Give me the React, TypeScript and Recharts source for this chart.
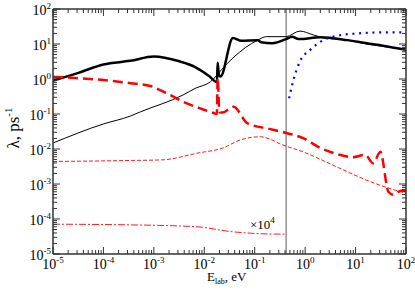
import React, { type ReactElement } from "react";
import { Line, LineChart, ReferenceLine, XAxis, YAxis } from "recharts";

// decade ticks for both log axes
const decades = [1e-5, 1e-4, 1e-3, 1e-2, 1e-1, 1e0, 1e1, 1e2];
const decadeExps = ["-5", "-4", "-3", "-2", "-1", "0", "1", "2"];
const minorSteps = [2, 3, 4, 5, 6, 7, 8, 9];

// thick solid black
const totalE = [1e-5, 3.2e-5, 1e-4, 3.4e-4, 1e-3, 3.2e-3, 6.6e-3, 0.0126, 0.0178, 0.0184, 0.0195, 0.0209, 0.037, 0.054, 0.115, 0.135, 0.224, 0.417, 0.55, 0.74, 2.0, 6.8, 16.6, 35, 100];
const totalRate = [0.9, 1.5, 2.6, 3.3, 4.4, 3.2, 2.2, 1.2, 0.81, 2.9, 1.3, 1.17, 14.8, 12.3, 12.9, 11.2, 10.5, 13.8, 16.2, 13.8, 15.5, 12.9, 10.5, 8.9, 6.8];

// thin solid black
const thinE = [1e-5, 1e-4, 3.4e-4, 5.4e-4, 3.8e-3, 6.6e-3, 0.0132, 0.0224, 0.037, 0.115, 0.17, 0.417, 0.79, 1.45, 2.3, 6.8, 16.6, 35, 100];
const thinRate = [0.0148, 0.052, 0.087, 0.115, 0.35, 0.54, 0.83, 1.9, 4.0, 12.9, 16.2, 16.2, 23.4, 18.2, 15.1, 12.9, 10.0, 8.5, 7.1];

// thick dashed red
const dashE = [1e-5, 1e-4, 3.4e-4, 8.5e-4, 1.8e-3, 3.8e-3, 8.3e-3, 0.0158, 0.0178, 0.0184, 0.02, 0.0229, 0.038, 0.071, 0.204, 0.316, 0.91, 2.0, 4.4, 8.9, 15.5, 22.4, 31, 44.7, 56, 71, 85, 100];
const dashRate = [1.15, 0.93, 0.76, 0.63, 0.39, 0.224, 0.145, 0.105, 0.1, 1.07, 0.112, 0.11, 0.162, 0.055, 0.037, 0.0316, 0.0204, 0.0107, 0.0071, 0.0058, 0.0068, 0.0039, 0.0083, 6.0e-4, 4.9e-4, 6.0e-4, 6.5e-4, 6.3e-4];

// thin short-dashed red
const shortE = [1e-5, 3.4e-4, 1.5e-3, 7.2e-3, 0.0234, 0.051, 0.129, 0.204, 0.316, 0.91, 4.9, 19.5, 100];
const shortRate = [0.0044, 0.0047, 0.0049, 0.0076, 0.0107, 0.018, 0.0224, 0.019, 0.0141, 0.0083, 0.0028, 0.00117, 5.4e-4];

// dash-dot red (scaled x10^4)
const dotDashE = [1e-5, 3.4e-4, 7.2e-3, 0.032, 0.316, 0.42];
const dotDashRate = [7.1e-5, 6.8e-5, 6.0e-5, 4.4e-5, 3.7e-5, 3.7e-5];

// blue dotted
const blueE = [0.48, 0.57, 0.79, 1.26, 2.3, 4.5, 10.7, 31, 100];
const blueRate = [0.28, 0.81, 3.2, 6.8, 12.9, 17.4, 20, 21.4, 21.4];

const THRESHOLD = 0.42;

const toPoints = (e: number[], v: number[]) => e.map((x, i) => ({ e: x, v: v[i] }));

const allTicks = decades.concat(
  decades.slice(0, -1).flatMap((d) => minorSteps.map((k) => k * d))
);

const AXIS = "#333";
const FONT = "'Liberation Serif', 'Times New Roman', serif";
const MAJOR = 7;
const MINOR = 4;

const Tick = (side: "bottom" | "top" | "left" | "right") => (props: any) => {
  const { x, y, payload } = props;
  const idx = decades.indexOf(payload.value);
  const len = idx >= 0 ? MAJOR : MINOR;
  let line;
  if (side === "bottom") line = <line x1={x} x2={x} y1={y} y2={y - len} stroke={AXIS} />;
  else if (side === "top") line = <line x1={x} x2={x} y1={y} y2={y + len} stroke={AXIS} />;
  else if (side === "left") line = <line x1={x} x2={x + len} y1={y} y2={y} stroke={AXIS} />;
  else line = <line x1={x} x2={x - len} y1={y} y2={y} stroke={AXIS} />;
  let label = null;
  if (idx >= 0 && side === "bottom") {
    label = (
      <text x={x} y={y + 15} textAnchor="middle" style={{ fontFamily: FONT }} fontSize={14} fill="#000">
        10<tspan dy={-6.5} fontSize={9}>{decadeExps[idx]}</tspan>
      </text>
    );
  }
  if (idx >= 0 && side === "left") {
    label = (
      <text x={x - 2} y={y + 6} textAnchor="end" style={{ fontFamily: FONT }} fontSize={14} fill="#000">
        10<tspan dy={-6} fontSize={9}>{decadeExps[idx]}</tspan>
      </text>
    );
  }
  return (
    <g>
      {line}
      {label}
    </g>
  );
};

const axisCommon = {
  type: "number" as const,
  scale: "log" as const,
  domain: [1e-5, 100],
  allowDataOverflow: true,
  ticks: allTicks,
  interval: 0 as const,
  tickSize: 0,
  tickMargin: 0,
  tickLine: false,
  axisLine: { stroke: AXIS, strokeWidth: 1.5 },
};

export default function App(): ReactElement {
  return (
    <div style={{ position: "absolute", left: 0, top: 0, width: 415, height: 293, fontFamily: FONT }}>
      <LineChart width={415} height={293} margin={{ top: 0, right: 0, bottom: 0, left: 0 }}>
        <XAxis xAxisId={0} dataKey="e" orientation="bottom" height={39} tick={Tick("bottom")} {...axisCommon} />
        <XAxis xAxisId="top" dataKey="e" orientation="top" height={9} tick={Tick("top")} {...axisCommon} />
        <YAxis yAxisId={0} dataKey="v" orientation="left" width={53} tick={Tick("left")} {...axisCommon} />
        <YAxis yAxisId="right" dataKey="v" orientation="right" width={9} tick={Tick("right")} {...axisCommon} />
        <ReferenceLine x={THRESHOLD} stroke="#777" strokeWidth={1.2} />
        <Line data={toPoints(thinE, thinRate)} dataKey="v" type="monotone" stroke="#000" strokeWidth={1} dot={false} isAnimationActive={false} />
        <Line data={toPoints(totalE, totalRate)} dataKey="v" type="monotone" stroke="#000" strokeWidth={2.5} dot={false} isAnimationActive={false} />
        <Line data={toPoints(shortE, shortRate)} dataKey="v" type="monotone" stroke="#ff0000" strokeWidth={0.9} strokeDasharray="4 2" dot={false} isAnimationActive={false} />
        <Line data={toPoints(dotDashE, dotDashRate)} dataKey="v" type="monotone" stroke="#ff0000" strokeWidth={0.9} strokeDasharray="7 2 2 2" dot={false} isAnimationActive={false} />
        <Line data={toPoints(dashE, dashRate)} dataKey="v" type="monotone" stroke="#ff0000" strokeWidth={2.5} strokeDasharray="10 5" dot={false} isAnimationActive={false} />
        <Line data={toPoints(blueE, blueRate)} dataKey="v" type="monotone" stroke="#0000ff" strokeWidth={2.2} strokeDasharray="2 4.7" dot={false} isAnimationActive={false} />
      </LineChart>
      <svg width={415} height={293} style={{ position: "absolute", left: 0, top: 0, pointerEvents: "none", fontFamily: FONT }}>
        <text transform="translate(19,128) rotate(-90)" textAnchor="middle" fontSize={17} fill="#000">
          λ, ps<tspan dy={-7} fontSize={11}>-1</tspan>
        </text>
        <text x={207} y={281} fontSize={13} fill="#000">
          E<tspan dy={3} fontSize={8}>lab</tspan><tspan dy={-3}>, eV</tspan>
        </text>
        <text x={250} y={229} fontSize={13} fill="#000">
          ×10<tspan dy={-6} fontSize={9}>4</tspan>
        </text>
      </svg>
    </div>
  );
}
